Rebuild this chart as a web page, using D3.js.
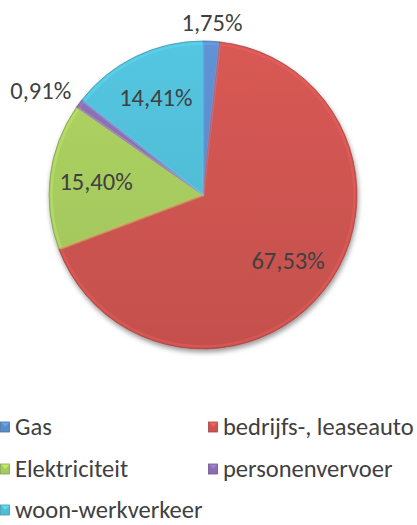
<!DOCTYPE html>
<html><head><meta charset="utf-8">
<script src="https://cdn.jsdelivr.net/npm/d3@7"></script>
<style>html,body{margin:0;padding:0;background:#fff;}svg{display:block;}</style>
</head><body>
<svg id="c" width="417" height="525"></svg>
<script>
const categories = ["Gas", "bedrijfs-, leaseauto", "Elektriciteit", "personenvervoer", "woon-werkverkeer"];
const values = [1.75, 67.53, 15.40, 0.91, 14.41];
const labels = ["1,75%", "67,53%", "15,40%", "0,91%", "14,41%"];
const colors = ["#5A8BCB", "#CD5450", "#A6CA5E", "#8A6CB0", "#50BCD5"];

const svg = d3.select("#c");
const cx = 203, cy = 195, R = 154;
const FONT = "Carlito, Calibri, Lato, sans-serif";
const FS = 24.5;
const textColor = "#404040";

const defs = svg.append("defs");
const f = defs.append("filter").attr("id", "sh").attr("x", "-20%").attr("y", "-20%").attr("width", "140%").attr("height", "140%");
f.append("feDropShadow").attr("dx", 1).attr("dy", 3).attr("stdDeviation", 2.5).attr("flood-color", "#000").attr("flood-opacity", 0.4);

colors.forEach((c, i) => {
  const gr = defs.append("linearGradient").attr("id", "g" + i)
    .attr("gradientUnits", "userSpaceOnUse").attr("x1", 0).attr("y1", -R).attr("x2", 0).attr("y2", R);
  const base = d3.color(c);
  gr.append("stop").attr("offset", "0%").attr("stop-color", base.brighter(0.15));
  gr.append("stop").attr("offset", "100%").attr("stop-color", base.darker(0.12));
});

const pie = d3.pie().sort(null).value(d => d)(values);
const arc = d3.arc().innerRadius(0).outerRadius(R);
const g = svg.append("g").attr("transform", `translate(${cx},${cy})`);

g.append("g").attr("filter", "url(#sh)").selectAll("path").data(pie).join("path")
  .attr("d", arc)
  .attr("fill", (d, i) => `url(#g${i})`)
  .attr("stroke", (d, i) => d3.color(colors[i]).darker(0.8))
  .attr("stroke-width", 0.7)
  .attr("stroke-linejoin", "round");

// bevel highlight along edges
g.append("g").selectAll("path").data(pie).join("path")
  .attr("d", d3.arc().innerRadius(0).outerRadius(R - 2.5))
  .attr("fill", "none")
  .attr("stroke", (d, i) => d3.color(colors[i]).brighter(0.6))
  .attr("stroke-opacity", 0.3)
  .attr("stroke-width", 2.5)
  .attr("stroke-linejoin", "round");

// labels
const inArc = d3.arc().innerRadius(R * 0.7).outerRadius(R * 0.7);
pie.forEach((d, i) => {
  const mid = (d.startAngle + d.endAngle) / 2;
  let x, y, anchor = "middle", base = "central";
  if (values[i] < 5) {
    const r = R + 10;
    x = Math.sin(mid) * r; y = -Math.cos(mid) * r;
    const s = Math.sin(mid);
    if (Math.abs(s) < 0.3) { anchor = "middle"; base = "auto"; }
    else { anchor = s > 0 ? "start" : "end"; y -= 6; }
  } else {
    [x, y] = inArc.centroid(d);
  }
  g.append("text").attr("x", x).attr("y", y)
    .attr("text-anchor", anchor).attr("dominant-baseline", base)
    .attr("font-family", FONT).attr("font-size", FS).attr("fill", textColor)
    .text(labels[i]);
});

// legend
const legX = [0, 208], legY = [427, 469, 510];
categories.forEach((c, i) => {
  const col = i % 2, row = Math.floor(i / 2);
  const lg = svg.append("g").attr("transform", `translate(${legX[col]},${legY[row]})`);
  lg.append("rect").attr("x", 0.5).attr("y", -5).attr("width", 9).attr("height", 10)
    .attr("fill", colors[i]).attr("stroke", d3.color(colors[i]).darker(0.6)).attr("stroke-width", 0.8);
  lg.append("path").attr("d", "M1,-4.5 L9.5,-4.5 L5.25,0 Z").attr("fill", d3.color(colors[i]).brighter(0.6)).attr("opacity", 0.7);
  lg.append("text").attr("x", 15).attr("y", 0).attr("dominant-baseline", "central")
    .attr("font-family", FONT).attr("font-size", FS).attr("fill", textColor).text(c);
});
</script>
</body></html>
